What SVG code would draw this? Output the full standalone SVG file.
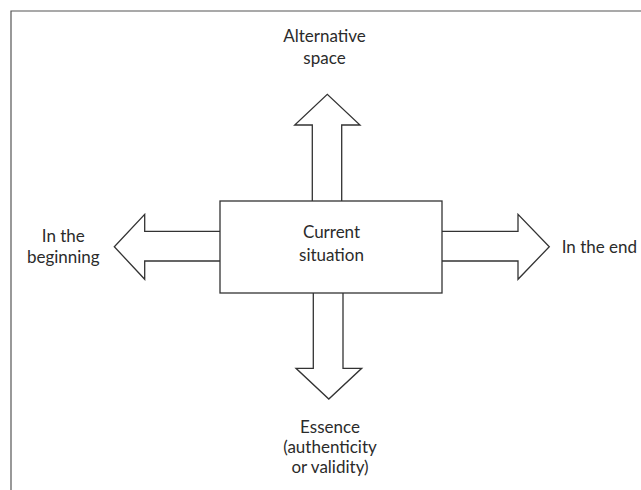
<svg xmlns="http://www.w3.org/2000/svg" width="641" height="490" viewBox="0 0 641 490">
<style>
.ln{fill:none;stroke:#333;stroke-width:1.3;stroke-linejoin:miter}
.ar{fill:#fff;stroke:#333;stroke-width:1.3;stroke-linejoin:miter}
.frame{fill:none;stroke:#555;stroke-width:1.2}
text{font-family:Lato,"Open Sans","Liberation Sans",sans-serif;font-size:17px;fill:#2b2b2b;text-anchor:middle}
</style>
<rect width="641" height="490" fill="#fff"/>
<path class="frame" d="M11,490 V11 H641"/>
<g id="connectors">
<path class="ar" d="M312.3,201 V125 H294.7 L327.3,94.3 L360,125 H341.7 V201"/>
<path class="ar" d="M220,231.3 H144.7 V214.3 L114.3,246.7 L144.7,279.3 V261 H220"/>
<path class="ar" d="M442,231.3 H518 V214.3 L549.3,246.7 L518,279.3 V261 H442"/>
<path class="ar" d="M313.3,293 V368.3 H296 L328.8,399 L361.7,368.3 H343 V293"/>
</g>
<g id="current">
<rect class="ln" x="220" y="201" width="222" height="92" fill="#fff"/>
<text x="331.5" y="238.3">Current</text>
<text x="331.5" y="260.7">situation</text>
</g>
<g id="alternative">
<text x="324.5" y="42">Alternative</text>
<text x="324.5" y="64">space</text>
</g>
<g id="beginning">
<text x="63.3" y="241.7">In the</text>
<text x="63.3" y="262.7">beginning</text>
</g>
<g id="end">
<text x="561.7" y="252.7" style="text-anchor:start">In the end</text>
</g>
<g id="essence">
<text x="330" y="433.3">Essence</text>
<text x="330" y="453.3">(authenticity</text>
<text x="330" y="473.3">or validity)</text>
</g>
</svg>
